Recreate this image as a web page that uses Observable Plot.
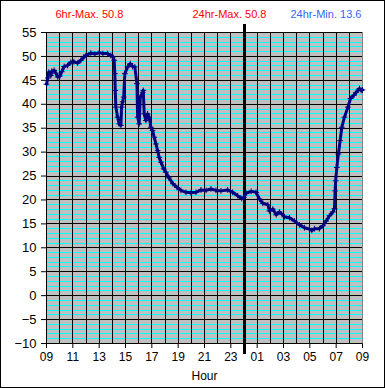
<!DOCTYPE html>
<html>
<head>
<meta charset="utf-8">
<script src="https://cdn.jsdelivr.net/npm/d3@7"></script>
<script src="https://cdn.jsdelivr.net/npm/@observablehq/plot@0.6"></script>
<style>
  html, body { margin: 0; padding: 0; background: #fff; }
  #wrap { position: relative; width: 385px; height: 388px; }
  #border { position: absolute; left: 0; top: 0; width: 385px; height: 388px; box-sizing: border-box; border: 1px solid #000; pointer-events: none; }
</style>
</head>
<body>
<div id="wrap"><div id="border"></div></div>
<script>
// Hours elapsed since 09:00 (0..24)
const hours = [
  0, 0.1, 0.17, 0.33, 0.4, 0.58, 0.71, 0.86, 1.01, 1.16, 1.34, 1.6, 1.85, 2.08, 2.36, 2.61, 2.84, 2.99,
  3.37, 3.67, 4.0, 4.28, 4.64, 4.89, 5.04, 5.14, 5.19, 5.22, 5.27, 5.4, 5.52, 5.65, 5.7, 5.78, 5.86,
  5.95, 6.16, 6.36, 6.54, 6.71, 6.87, 6.92, 7.04, 7.12, 7.3, 7.35, 7.42, 7.55, 7.68, 7.8, 7.93, 8.06,
  8.18, 8.31, 8.44, 8.56, 8.69, 8.9, 9.07, 9.3, 9.6, 9.91, 10.21, 10.59, 10.97, 11.35, 11.73, 12.12,
  12.49, 12.87, 13.25, 13.76, 14.14, 14.52, 14.83, 14.98, 15.16, 15.54, 15.92, 16.17, 16.43, 16.81,
  16.93, 17.19, 17.44, 17.69, 18.07, 18.45, 18.83, 19.21, 19.59, 19.97, 20.15, 20.35, 20.73, 20.99,
  21.24, 21.49, 21.75, 21.87, 21.92, 21.96, 22.05, 22.17, 22.3, 22.43, 22.63, 22.89, 23.09, 23.35,
  23.52, 23.77, 23.9, 24
];
// Temperature readings
const temps = [
  44.2, 45.5, 46.7, 46.0, 46.9, 47.1, 46.5, 45.7, 45.9, 46.8, 47.9, 48.1, 48.8, 48.9, 48.6, 49.2, 49.9, 50.2,
  50.7, 50.5, 50.8, 50.6, 50.6, 50.2, 49.9, 49.2, 46.4, 42.9, 39.4, 37.3, 35.9, 35.6, 39.4, 40.5, 41.5,
  46.4, 47.8, 48.5, 47.9, 47.8, 44.3, 37.3, 35.9, 41.5, 42.5, 42.9, 38.0, 36.6, 38.0, 37.3, 35.2, 34.5,
  33.1, 31.7, 30.3, 28.9, 27.9, 26.5, 25.8, 24.6, 23.4, 22.6, 22.0, 21.6, 21.5, 21.6, 22.1, 22.0,
  22.3, 22.0, 21.9, 22.1, 21.6, 20.9, 20.3, 20.5, 21.4, 21.8, 21.6, 20.2, 19.3, 19.0,
  17.7, 18.1, 16.9, 17.5, 16.5, 16.3, 15.6, 14.8, 14.2, 13.9, 13.6, 14.0, 14.0, 14.6,
  15.6, 16.7, 17.5, 18.2, 21.9, 24.0, 26.8, 29.6, 32.4, 35.2, 37.3, 39.4, 41.2, 41.9,
  42.5, 43.3, 42.9, 43.0
];
const yMajorTicks = [-10, -5, 0, 5, 10, 15, 20, 25, 30, 35, 40, 45, 50, 55];
const xTicks = [0, 2, 4, 6, 8, 10, 12, 14, 16, 18, 20, 22, 24];
const xTickLabels = ["09", "11", "13", "15", "17", "19", "21", "23", "01", "03", "05", "07", "09"];
const hourLines = d3.range(0, 24);
const midnight = [15];
const titleTexts = ["6hr-Max. 50.8", "24hr-Max. 50.8", "24hr-Min. 13.6"];

const data = hours.map((h, i) => ({h, t: temps[i]}));
const intLines = d3.range(-10, 55).filter(v => v % 5 !== 0);

const chart = Plot.plot({
  width: 385,
  height: 388,
  marginLeft: 46,
  marginRight: 23,
  marginTop: 32,
  marginBottom: 45,
  style: {fontFamily: "'Liberation Sans', Arial, sans-serif", fontSize: "12px", color: "#000", background: "transparent", overflow: "visible"},
  x: {domain: [0, 24], ticks: xTicks, tickFormat: d => xTickLabels[xTicks.indexOf(d)], tickSize: 5, tickPadding: 4, label: "Hour", labelAnchor: "center", labelArrow: "none", labelOffset: 36},
  y: {domain: [-10, 55], ticks: yMajorTicks, tickSize: 5, tickPadding: 5, label: null},
  marks: [
    Plot.frame({fill: "#c0c0c0", stroke: null}),
    Plot.ruleY(intLines, {stroke: "#00ffff", strokeWidth: 1, shapeRendering: "crispEdges"}),
    Plot.ruleX(hourLines, {stroke: "#000", strokeWidth: 1, shapeRendering: "crispEdges"}),
    Plot.ruleX([24], {stroke: "#808080", strokeWidth: 1, shapeRendering: "crispEdges"}),
    Plot.ruleY(yMajorTicks, {stroke: "#000", strokeWidth: 1, shapeRendering: "crispEdges"}),
    Plot.ruleX(midnight, {y1: -12.3, y2: 56.7, stroke: "#000", strokeWidth: 3, shapeRendering: "crispEdges"}),
    Plot.line(data, {x: "h", y: "t", stroke: "#000080", strokeWidth: 3}),
    Plot.dot(data, {x: "h", y: "t", symbol: "plus", r: 2, stroke: "#000080", strokeWidth: 1}),
    Plot.text([titleTexts[0]], {frameAnchor: "top-left", dx: 9, dy: -22, text: d => d, fill: "#ff0000", fontSize: 11, textAnchor: "start"}),
    Plot.text([titleTexts[1]], {frameAnchor: "top-left", dx: 146, dy: -22, text: d => d, fill: "#ff0000", fontSize: 11, textAnchor: "start"}),
    Plot.text([titleTexts[2]], {frameAnchor: "top-left", dx: 244, dy: -22, text: d => d, fill: "#3366ff", fontSize: 11, textAnchor: "start"})
  ]
});
chart.querySelectorAll("[aria-label='y-axis tick label'] text").forEach(t => t.setAttribute("font-size", "13"));
document.getElementById("wrap").insertBefore(chart, document.getElementById("border"));
</script>
</body>
</html>
